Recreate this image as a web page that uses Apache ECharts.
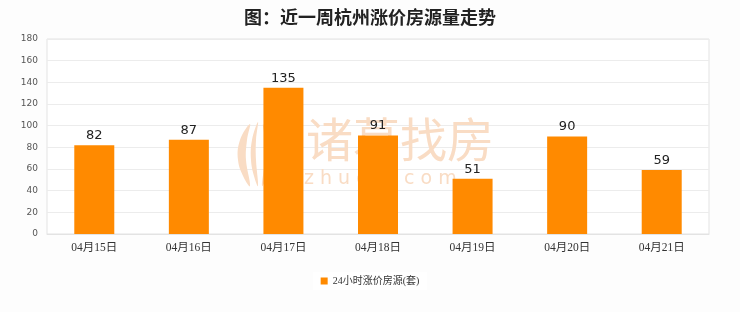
<!DOCTYPE html>
<html><head><meta charset="utf-8">
<script src="https://cdn.jsdelivr.net/npm/echarts@6/dist/echarts.min.js"></script>
<style>html,body{margin:0;padding:0;background:#fdfdfd}#c{width:740px;height:312px}</style>
</head><body><div id="c"></div>
<script>
const categories = ['04月15日','04月16日','04月17日','04月18日','04月19日','04月20日','04月21日'];
const values = [82, 87, 135, 91, 51, 90, 59];
const seriesName = '24小时涨价房源(套)';
const titleText = '图：近一周杭州涨价房源量走势';
const yTicks = {min: 0, max: 180, interval: 20};

const wm = '#f9dcc4';
const leaf = (pts) => ({type: 'polygon', z: 1, shape: {points: pts, smooth: 0.4}, style: {fill: wm}});
const chart = echarts.init(document.getElementById('c'));
chart.setOption({
  backgroundColor: '#fdfdfd',
  animation: false,
  title: {
    text: titleText, left: 'center', top: 3,
    textStyle: {fontFamily: 'Noto Sans CJK SC', fontSize: 18, fontWeight: 'bold', color: '#222'}
  },
  graphic: [
    {type: 'text', z: 1, left: 306, top: 116, style: {text: '诸葛找房', fontSize: 47, fontFamily: 'Noto Sans CJK SC', fill: wm}},
    {type: 'text', z: 1, left: 304, top: 170, style: {text: 'z h u g e . c o m', fontSize: 19, fontFamily: 'DejaVu Sans', fill: wm}},
    leaf([[250,124],[240,140],[238,160],[244,178],[250,186],[246,160],[247,140]]),
    leaf([[258,122],[252,140],[251,160],[254,176],[258,186],[256,160],[256,140]]),
    leaf([[263,124],[269,140],[270,160],[267,176],[262,186],[265,160],[265,140]])
  ],
  grid: {left: 47, right: 31, top: 39, bottom: 78, show: true, backgroundColor: '#ffffff', borderColor: '#e3e3e3', borderWidth: 1},
  legend: {
    bottom: 22, left: 'center', itemWidth: 7, itemHeight: 7, icon: 'rect',
    backgroundColor: '#ffffff', padding: [4, 8],
    textStyle: {fontFamily: 'Liberation Serif, Noto Sans CJK SC', fontSize: 10, color: '#333'},
    data: [seriesName]
  },
  xAxis: {
    type: 'category', data: categories,
    axisLine: {lineStyle: {color: '#e3e3e3'}},
    axisTick: {show: false},
    axisLabel: {fontFamily: 'Liberation Serif, Noto Sans CJK SC', fontSize: 11.5, color: '#333', margin: 8}
  },
  yAxis: {
    type: 'value', min: yTicks.min, max: yTicks.max, interval: yTicks.interval,
    axisLine: {show: false}, axisTick: {show: false},
    splitLine: {lineStyle: {color: '#ececec'}},
    axisLabel: {fontFamily: 'DejaVu Sans', fontSize: 9, color: '#555', margin: 9}
  },
  series: [{
    name: seriesName, type: 'bar', data: values, barWidth: 40, z: 3,
    itemStyle: {color: '#ff8a00'},
    label: {show: true, position: 'top', fontFamily: 'DejaVu Sans', fontSize: 13, color: '#222', distance: 3}
  }]
});
</script></body></html>
